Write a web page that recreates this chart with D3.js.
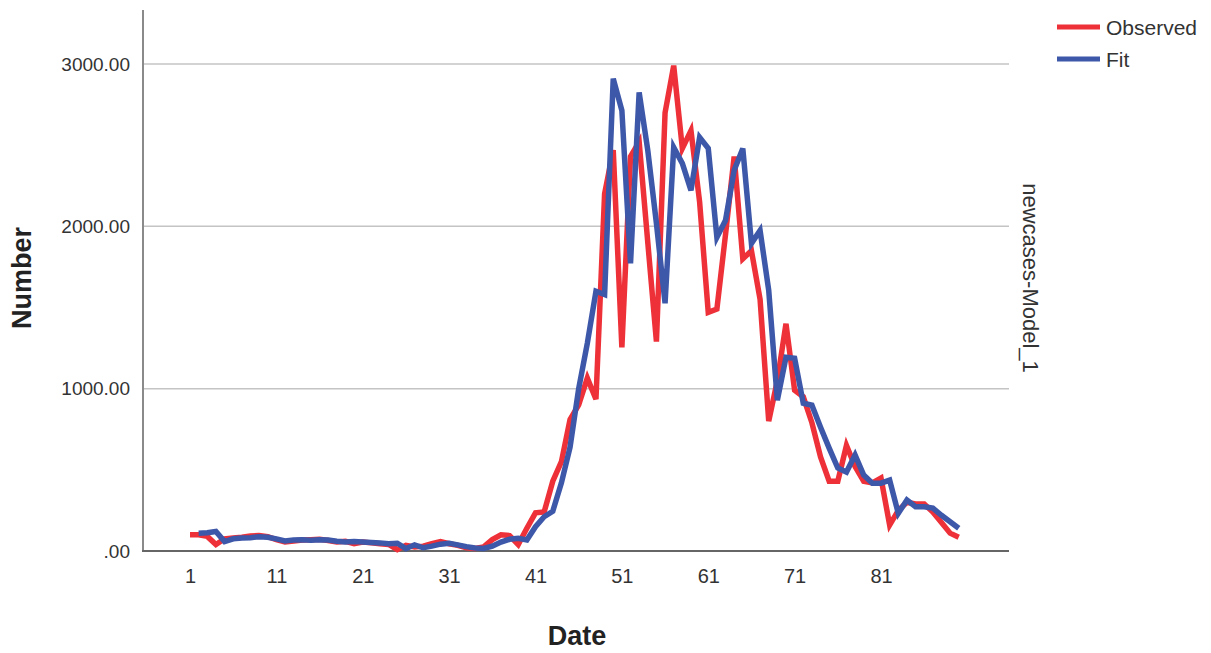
<!DOCTYPE html>
<html>
<head>
<meta charset="utf-8">
<script src="https://cdn.jsdelivr.net/npm/d3@7"></script>
<style>
  html, body { margin: 0; padding: 0; background: #fff; }
  svg { display: block; font-family: "Liberation Sans", Arial, sans-serif; }
</style>
</head>
<body>
<svg id="chart" width="1211" height="653"></svg>
<script>
// ---- data ----
const dates = d3.range(1, 91);
const observed = [
  100, 100, 90, 40, 75, 80, 85, 92, 95, 88,
  70, 55, 62, 68, 70, 72, 65, 55, 60, 45,
  55, 50, 45, 40, 8, 35, 25, 30, 45, 58,
  45, 35, 20, 15, 25, 70, 100, 95, 40, 140,
  235, 240, 430, 550, 810, 900, 1065, 935, 2200, 2470,
  1255, 2430, 2520, 1900, 1290, 2700, 2990, 2480, 2590, 2150,
  1470, 1490, 1950, 2430, 1800, 1850, 1550, 800, 1050, 1400,
  990, 950, 790, 580, 430, 430, 650, 520, 430, 420,
  450, 160, 250, 300, 290, 290, 240, 175, 110, 85
];
const fit = [
  null, 110, 112, 120, 58, 75, 80, 82, 88, 85,
  75, 62, 68, 70, 66, 70, 68, 60, 55, 58,
  55, 52, 50, 45, 48, 15, 38, 20, 30, 42,
  47, 38, 27, 18, 16, 30, 55, 72, 78, 68,
  150, 211, 245, 420, 640, 1000, 1280, 1600, 1580, 2910,
  2714, 1772, 2825, 2468, 2018, 1526, 2486, 2388, 2222, 2548,
  2480, 1932, 2037, 2345, 2480, 1895, 1975, 1606, 929, 1194,
  1188, 910, 898, 763, 634, 511, 486, 591, 468, 418,
  418, 437, 232, 314, 273, 273, 264, 220, 180, 140
];
const xTicks = [1, 11, 21, 31, 41, 51, 61, 71, 81];
const yTicks = [0, 1000, 2000, 3000];
const seriesNames = ["Observed", "Fit"];
const colors = ["#ee3039", "#3d57a9"];

// ---- layout ----
const svg = d3.select("#chart");
const plotLeft = 143, plotRight = 1009, plotBottom = 551, plotTop = 10;
const x = d3.scaleLinear().domain([1, 81]).range([190, 881]);
const y = d3.scaleLinear().domain([0, 3000]).range([551, 64]);

// gridlines
svg.append("g").selectAll("line").data(yTicks.filter(d => d > 0)).join("line")
  .attr("x1", plotLeft).attr("x2", plotRight)
  .attr("y1", d => y(d)).attr("y2", d => y(d))
  .attr("stroke", "#c4c4c4").attr("stroke-width", 1.5);

// y axis
const yAxis = d3.axisLeft(y).tickValues(yTicks).tickSize(0).tickPadding(13)
  .tickFormat(d => d === 0 ? ".00" : d3.format(".2f")(d));
const gy = svg.append("g").attr("transform", `translate(${plotLeft},0)`).call(yAxis);
gy.select(".domain").remove();
gy.selectAll("text").attr("font-size", 19).attr("fill", "#333")
  .attr("font-family", "Liberation Sans, Arial, sans-serif");
svg.append("line").attr("x1", plotLeft).attr("x2", plotLeft).attr("y1", plotTop).attr("y2", plotBottom)
  .attr("stroke", "#8a8a8a").attr("stroke-width", 2);

// x axis
const xAxis = d3.axisBottom(x).tickValues(xTicks).tickSize(0).tickPadding(18)
  .tickFormat(d3.format("d"));
const gx = svg.append("g").attr("transform", `translate(0,${plotBottom})`).call(xAxis);
gx.select(".domain").remove();
gx.selectAll("text").attr("font-size", 20).attr("fill", "#333")
  .attr("font-family", "Liberation Sans, Arial, sans-serif");
svg.append("line").attr("x1", plotLeft - 1).attr("x2", plotRight).attr("y1", plotBottom).attr("y2", plotBottom)
  .attr("stroke", "#666").attr("stroke-width", 2);

// lines
const line = d3.line()
  .defined(d => d.v !== null)
  .x(d => x(d.t)).y(d => y(d.v));
[observed, fit].forEach((arr, i) => {
  svg.append("path")
    .datum(dates.map((t, j) => ({ t, v: arr[j] })))
    .attr("d", line)
    .attr("fill", "none")
    .attr("stroke", colors[i])
    .attr("stroke-width", 5.5)
    .attr("stroke-linejoin", "miter")
    .attr("stroke-miterlimit", 4);
});

// axis titles
svg.append("text").attr("x", 577).attr("y", 645).attr("text-anchor", "middle")
  .attr("font-size", 27).attr("font-weight", "bold").attr("fill", "#222").text("Date");
svg.append("text").attr("transform", "translate(31,278) rotate(-90)").attr("text-anchor", "middle")
  .attr("font-size", 27).attr("font-weight", "bold").attr("fill", "#222").text("Number");
svg.append("text").attr("transform", "translate(1023,278) rotate(90)").attr("text-anchor", "middle")
  .attr("font-size", 22).attr("fill", "#333").text("newcases-Model_1");

// legend
const lg = svg.append("g");
seriesNames.forEach((name, i) => {
  const yy = 27 + i * 32;
  lg.append("line").attr("x1", 1057).attr("x2", 1100).attr("y1", yy).attr("y2", yy)
    .attr("stroke", colors[i]).attr("stroke-width", 5);
  lg.append("text").attr("x", 1106).attr("y", yy + 8).attr("font-size", 21)
    .attr("fill", "#333").text(name);
});
</script>
</body>
</html>
